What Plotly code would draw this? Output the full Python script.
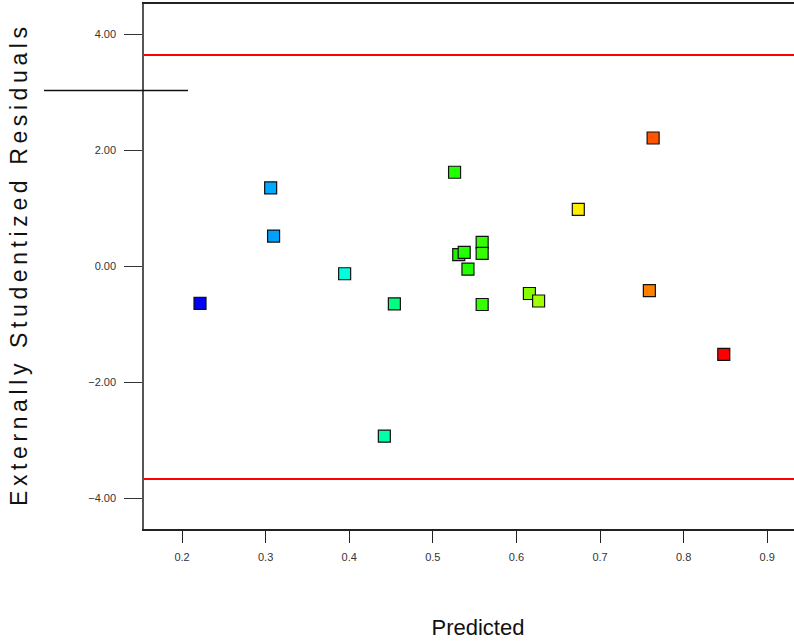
import plotly.graph_objects as go

# ---- data ----
predicted = [0.2215, 0.306, 0.3095, 0.3945, 0.454, 0.442, 0.526, 0.531, 0.5375,
             0.542, 0.559, 0.559, 0.559, 0.6155, 0.6265, 0.674, 0.7635, 0.759, 0.848]
residuals = [-0.64, 1.35, 0.52, -0.13, -0.65, -2.93, 1.62, 0.20, 0.24,
             -0.05, 0.41, 0.22, -0.66, -0.47, -0.60, 0.98, 2.21, -0.42, -1.52]
point_colors = ["#0000ff", "#00aaff", "#00a0ff", "#00ffdd", "#00ff80", "#00ffaa",
                "#22ff00", "#22ee00", "#22ff00", "#22ff00", "#33ff00", "#33ff00",
                "#33ff00", "#88ff00", "#a0ff00", "#ffee00", "#ff5500", "#ff8000", "#ff0000"]
limit_upper = 3.64
limit_lower = -3.67
stray_line_y = 3.03

y_ticks = [-4, -2, 0, 2, 4]
x_ticks = [0.2, 0.3, 0.4, 0.5, 0.6, 0.7, 0.8, 0.9]

FONT = "Liberation Sans, Arial, sans-serif"

y_title = "Externally Studentized Residuals"
y_title_spaced = "\u2009".join(list(y_title))

# plot area continues past the right edge of the window, as in the reference
FIG_W = 812
PLOT_L = 144
x_min = 0.1545
x_max = x_min + (FIG_W - PLOT_L) / 836.0
stray_x0 = (44 - PLOT_L) / (FIG_W - PLOT_L)
stray_x1 = (188 - PLOT_L) / (FIG_W - PLOT_L)

fig = go.Figure()
fig.add_trace(go.Scatter(
    x=predicted, y=residuals, mode="markers",
    marker=dict(symbol="square", size=12, color=point_colors,
                line=dict(color="#111111", width=1.2)),
    showlegend=False, hoverinfo="x+y",
))

fig.add_shape(type="line", xref="paper", yref="y", x0=0, x1=1,
              y0=limit_upper, y1=limit_upper, line=dict(color="#ff0000", width=2))
fig.add_shape(type="line", xref="paper", yref="y", x0=0, x1=1,
              y0=limit_lower, y1=limit_lower, line=dict(color="#ff0000", width=2))
fig.add_shape(type="line", xref="paper", yref="y", x0=stray_x0, x1=stray_x1,
              y0=stray_line_y, y1=stray_line_y, line=dict(color="#111111", width=1.5))

fig.update_layout(
    width=FIG_W, height=642,
    margin=dict(l=PLOT_L, r=0, t=4, b=113),
    paper_bgcolor="white", plot_bgcolor="white",
    font=dict(family=FONT, color="#222222"),
    xaxis=dict(
        range=[x_min, x_max], tickvals=x_ticks, ticktext=[str(v) for v in x_ticks],
        ticks="outside", ticklen=12, tickwidth=1, tickcolor="#222222",
        showline=True, linecolor="#222222", linewidth=1.5, mirror=True,
        showgrid=False, zeroline=False,
        tickfont=dict(size=11, color="#333333"), ticklabelstandoff=5,
        title=dict(text="Predicted", font=dict(size=22, color="#111111"), standoff=58),
        automargin=False,
    ),
    yaxis=dict(
        range=[-4.53, 4.52], tickvals=y_ticks, tickformat=".2f",
        ticks="outside", ticklen=18, tickwidth=1.2, tickcolor="#333333",
        showline=True, linecolor="#555555", linewidth=1.5, mirror=False,
        showgrid=False, zeroline=False,
        tickfont=dict(size=11, color="#333333"), ticklabelstandoff=6,
        title=dict(text=y_title_spaced, font=dict(size=23, color="#111111"), standoff=54),
        automargin=False,
    ),
)

fig.write_html(
    "out.html",
    config={"displayModeBar": False},
    post_script="document.body.style.margin='0px';document.body.style.overflow='hidden';",
)
